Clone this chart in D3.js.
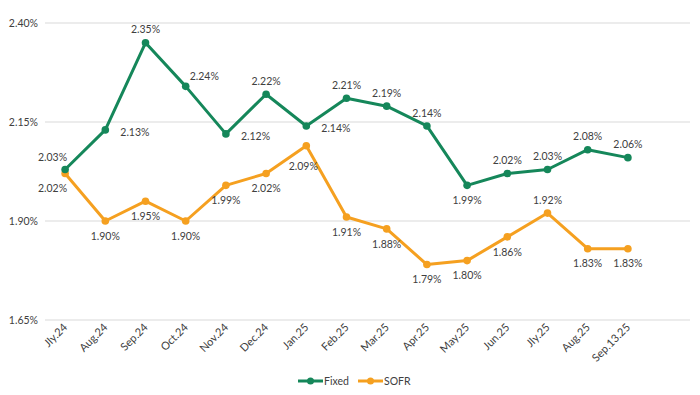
<!DOCTYPE html>
<html>
<head>
<meta charset="utf-8">
<script src="https://cdn.jsdelivr.net/npm/d3@7"></script>
<style>
  body { margin: 0; background: #fff; }
  text { font-family: Lato, "Open Sans", sans-serif; fill: #404040; }
</style>
</head>
<body>
<div id="chart"></div>
<script>
    // data
    var months = ["Jly.24", "Aug.24", "Sep.24", "Oct.24", "Nov.24", "Dec.24", "Jan.25",
        "Feb.25", "Mar.25", "Apr.25", "May.25", "Jun.25", "Jly.25", "Aug.25", "Sep.13.25"];
    var fixed = [2.03, 2.13, 2.35, 2.24, 2.12, 2.22, 2.14, 2.21, 2.19, 2.14, 1.99, 2.02, 2.03, 2.08, 2.06];
    var sofr = [2.02, 1.90, 1.95, 1.90, 1.99, 2.02, 2.09, 1.91, 1.88, 1.79, 1.80, 1.86, 1.92, 1.83, 1.83];
    var yTicks = [1.65, 1.90, 2.15, 2.40];

    // where each data label sits relative to its point
    var fixedPos = ["la", "r", "a", "ar", "r", "a", "r", "a", "a", "a", "b", "a", "a", "a", "a"];
    var sofrPos = ["lb", "b", "b", "b", "b", "b", "lb", "b", "b", "b", "b", "b", "a", "b", "b"];

    var width = 700, height = 395;
    var plot = {left: 45, right: 648, top: 23, bottom: 320, gridRight: 690};

    var svg = d3.select("#chart").append("svg")
        .attr("width", width)
        .attr("height", height);

    var x = d3.scalePoint().domain(months).range([plot.left, plot.right]).padding(0.5);
    var y = d3.scaleLinear().domain([1.65, 2.40]).range([plot.bottom, plot.top]);

    // gridlines + y labels
    svg.append("g").selectAll("line")
        .data(yTicks).enter().append("line")
        .attr("x1", plot.left).attr("x2", plot.gridRight)
        .attr("y1", d => y(d)).attr("y2", d => y(d))
        .attr("stroke", "#d9d9d9").attr("stroke-width", 1);

    svg.append("g").selectAll("text")
        .data(yTicks).enter().append("text")
        .attr("x", 38).attr("y", d => y(d))
        .attr("dy", "0.35em")
        .attr("text-anchor", "end")
        .style("font-size", "10.5px")
        .text(d => d.toFixed(2) + "%");

    // x labels, rotated
    svg.append("g").selectAll("text")
        .data(months).enter().append("text")
        .attr("transform", d => "translate(" + (x(d) + 3) + "," + 328 + ") rotate(-45)")
        .attr("text-anchor", "end")
        .style("font-size", "11px")
        .text(d => d);

    var line = d3.line()
        .x((d, i) => x(months[i]))
        .y(d => y(d));

    function drawSeries(values, pos, color) {
        svg.append("path")
            .datum(values)
            .attr("fill", "none")
            .attr("stroke", color)
            .attr("stroke-width", 3)
            .attr("stroke-linejoin", "round")
            .attr("d", line);

        svg.append("g").selectAll("circle")
            .data(values).enter().append("circle")
            .attr("cx", (d, i) => x(months[i]))
            .attr("cy", d => y(d))
            .attr("r", 3.8)
            .attr("fill", color);

        var off = {
            a: [0, -13, "middle"], b: [0, 15, "middle"], r: [15, 2, "start"],
            ar: [4, -10, "start"], la: [2, -12, "end"], lb: [-3, 21, "middle"]
        };
        off.lb0 = [2, 15, "end"];

        svg.append("g").selectAll("text")
            .data(values).enter().append("text")
            .attr("x", (d, i) => x(months[i]) + off[key(pos, i)][0])
            .attr("y", (d, i) => y(d) + off[key(pos, i)][1])
            .attr("dy", "0.35em")
            .attr("text-anchor", (d, i) => off[key(pos, i)][2])
            .style("font-size", "10.5px")
            .text(d => d.toFixed(2) + "%");
    }

    // first point labels hug the left side
    function key(pos, i) {
        return (i === 0 && pos[i] === "lb") ? "lb0" : pos[i];
    }

    var green = "#15875a", orange = "#f5a020";
    drawSeries(sofr, sofrPos, orange);
    drawSeries(fixed, fixedPos, green);

    // legend
    var legend = svg.append("g").attr("transform", "translate(298,381)");
    [["Fixed", green, 0], ["SOFR", orange, 60]].forEach(function(s) {
        var g = legend.append("g").attr("transform", "translate(" + s[2] + ",0)");
        g.append("line").attr("x1", 0).attr("x2", 25).attr("y1", 0).attr("y2", 0)
            .attr("stroke", s[1]).attr("stroke-width", 3);
        g.append("circle").attr("cx", 12.5).attr("cy", 0).attr("r", 3.5).attr("fill", s[1]);
        g.append("text").attr("x", 26).attr("y", 0).attr("dy", "0.35em")
            .style("font-size", "10.5px").text(s[0]);
    });
</script>
</body>
</html>
